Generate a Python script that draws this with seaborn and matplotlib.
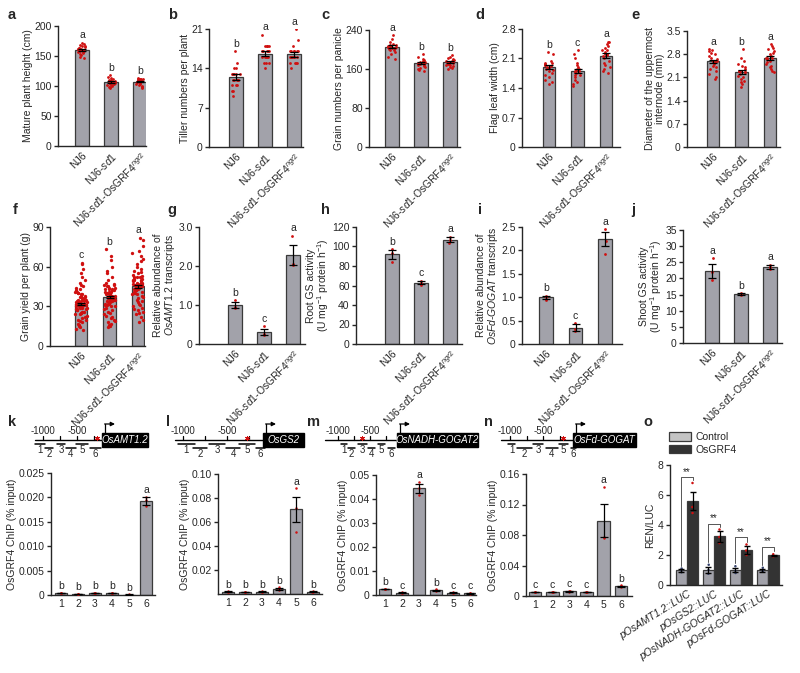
import numpy as np
import pandas as pd
import matplotlib
matplotlib.use('Agg')
import matplotlib.pyplot as plt
import seaborn as sns
from matplotlib.patches import Patch, Rectangle

# ---------------- data ----------------
GROUPS = ['NJ6', 'NJ6-sd1', 'NJ6-sd1-OsGRF4ngr2']
GROUP_LABELS = ['NJ6', r'NJ6-$\mathit{sd1}$', r'NJ6-$\mathit{sd1}$-OsGRF4$^{\mathit{ngr2}}$']

height_means = [160, 107, 107]
height_sems = [1.6, 1.3, 1.1]
height_pts = [[172, 170, 168, 167, 166, 165, 164, 163, 162, 162, 161, 160, 160, 159, 158, 157, 156, 155, 153, 151, 149, 146],
              [118, 115, 113, 112, 110, 109, 108, 108, 107, 106, 105, 104, 103, 102, 101, 100, 99, 98, 97, 110],
              [113, 112, 112, 111, 110, 110, 109, 108, 107, 106, 105, 104, 103, 102, 100, 99, 98, 97, 111, 112]]
height_letters = ['a', 'b', 'b']

tiller_means = [12.5, 16.6, 16.5]
tiller_sems = [0.5, 0.4, 0.4]
tiller_pts = [[17, 15, 14, 13, 13, 13, 13, 12, 12, 12, 12, 11, 11, 11, 10, 10, 9, 12, 13, 14],
              [20, 18, 18, 18, 18, 17, 17, 17, 17, 16, 16, 16, 16, 15, 15, 15, 14, 17, 16, 18],
              [21, 19, 17, 17, 17, 17, 17, 16, 16, 16, 16, 16, 15, 15, 15, 14, 18, 16, 17, 15]]
tiller_letters = ['b', 'a', 'a']

grain_means = [206, 172, 174]
grain_sems = [2.5, 2.0, 1.8]
grain_pts = [[230, 222, 215, 212, 210, 208, 207, 206, 205, 205, 204, 203, 202, 200, 198, 195, 190, 185, 180, 210],
             [190, 185, 180, 178, 176, 175, 174, 173, 172, 171, 170, 169, 168, 167, 165, 163, 160, 158, 155, 175],
             [188, 185, 182, 180, 178, 176, 175, 174, 173, 172, 171, 170, 169, 168, 166, 164, 162, 160, 178, 176]]
grain_letters = ['a', 'b', 'b']

leaf_means = [1.9, 1.8, 2.17]
leaf_sems = [0.05, 0.05, 0.06]
leaf_pts = [[2.25, 2.2, 2.05, 2.0, 1.98, 1.95, 1.92, 1.9, 1.88, 1.85, 1.82, 1.8, 1.75, 1.7, 1.65, 1.6, 1.55, 1.5, 2.0, 1.95],
            [2.3, 2.2, 2.1, 2.0, 1.95, 1.9, 1.85, 1.82, 1.8, 1.78, 1.75, 1.72, 1.7, 1.65, 1.6, 1.55, 1.5, 1.45, 1.85, 1.8],
            [2.5, 2.48, 2.45, 2.4, 2.35, 2.3, 2.25, 2.2, 2.18, 2.15, 2.1, 2.05, 2.0, 1.95, 1.9, 1.85, 1.8, 1.75, 2.2, 2.3]]
leaf_letters = ['b', 'c', 'a']

diam_means = [2.58, 2.27, 2.68]
diam_sems = [0.06, 0.06, 0.06]
diam_pts = [[2.95, 2.92, 2.9, 2.85, 2.8, 2.75, 2.7, 2.65, 2.6, 2.58, 2.55, 2.5, 2.45, 2.4, 2.35, 2.3, 2.2, 2.1, 2.05, 2.6],
            [2.95, 2.7, 2.6, 2.5, 2.45, 2.4, 2.35, 2.3, 2.28, 2.25, 2.2, 2.15, 2.1, 2.05, 2.0, 1.95, 1.9, 1.8, 2.3, 2.25],
            [3.1, 3.05, 3.0, 2.95, 2.9, 2.85, 2.8, 2.75, 2.7, 2.68, 2.65, 2.6, 2.55, 2.5, 2.45, 2.4, 2.35, 2.3, 2.25, 2.7]]
diam_letters = ['a', 'b', 'a']

yield_means = [32, 37, 45]
yield_sems = [0.8, 0.8, 0.9]
yield_pts = [[63, 62, 58, 55, 52, 50, 48, 46, 45, 44, 43, 42, 41, 41, 40, 40, 39, 39, 38, 38, 37, 37, 36, 36, 35, 35, 35, 34, 34, 34,
              33, 33, 33, 32, 32, 32, 32, 31, 31, 31, 30, 30, 30, 29, 29, 29, 28, 28, 28, 27, 27, 26, 26, 25, 25, 24, 24, 23, 22, 21,
              20, 20, 19, 18, 17, 16, 15, 14, 13, 12],
             [73, 68, 65, 60, 57, 55, 52, 50, 48, 47, 46, 46, 45, 45, 44, 44, 43, 43, 42, 42, 41, 41, 40, 40, 40, 39, 39, 39, 38, 38,
              38, 37, 37, 37, 36, 36, 36, 35, 35, 35, 34, 34, 34, 33, 33, 32, 32, 31, 31, 30, 30, 29, 28, 27, 26, 25, 24, 23, 22, 21,
              20, 19, 18, 17, 16, 15, 14, 38, 41, 43],
             [82, 80, 76, 72, 70, 68, 66, 64, 62, 60, 58, 57, 56, 55, 54, 53, 52, 52, 51, 51, 50, 50, 49, 49, 48, 48, 47, 47, 46, 46,
              46, 45, 45, 45, 44, 44, 44, 43, 43, 43, 42, 42, 41, 41, 40, 40, 39, 39, 38, 37, 36, 35, 34, 33, 32, 31, 30, 29, 28, 27,
              26, 25, 24, 22, 20, 18, 47, 48, 50, 52]]
yield_letters = ['c', 'b', 'a']

amt_means = [1.0, 0.3, 2.28]
amt_sems = [0.07, 0.08, 0.25]
amt_pts = [[1.13, 0.95, 0.92], [0.45, 0.25, 0.22], [2.78, 2.05, 2.02]]
amt_letters = ['b', 'c', 'a']

rootgs_means = [92, 63, 107]
rootgs_sems = [4.5, 1.8, 2.5]
rootgs_pts = [[97, 93, 84], [65, 63, 61], [110, 107, 104]]
rootgs_letters = ['b', 'c', 'a']

fd_means = [1.0, 0.35, 2.24]
fd_sems = [0.03, 0.07, 0.15]
fd_pts = [[1.03, 1.0, 0.95], [0.45, 0.32, 0.28], [2.45, 2.2, 1.92]]
fd_letters = ['b', 'c', 'a']

shootgs_means = [22.3, 15.2, 23.5]
shootgs_sems = [2.1, 0.3, 0.6]
shootgs_pts = [[26.3, 22.0, 19.5], [15.5, 15.2, 15.0], [24.3, 23.5, 22.8]]
shootgs_letters = ['a', 'b', 'a']

FRAGS = ['1', '2', '3', '4', '5', '6']

k_means = [0.0004, 0.0002, 0.0004, 0.0004, 0.0001, 0.0192]
k_sems = [0.00005, 0.00003, 0.00005, 0.00005, 0.00002, 0.0008]
k_pts = [[0.00045, 0.0004, 0.00035], [0.00025, 0.0002, 0.00015], [0.00045, 0.0004, 0.00035],
         [0.0005, 0.0004, 0.00035], [0.00012, 0.0001, 0.00008], [0.0201, 0.0195, 0.0182]]
k_letters = ['b', 'b', 'b', 'b', 'b', 'a']

l_means = [0.002, 0.0015, 0.002, 0.0045, 0.0705, 0.002]
l_sems = [0.0002, 0.0002, 0.0002, 0.0008, 0.0105, 0.0002]
l_pts = [[0.0022, 0.002, 0.0018], [0.0017, 0.0015, 0.0013], [0.0022, 0.002, 0.0018],
         [0.0055, 0.0045, 0.0035], [0.088, 0.072, 0.052], [0.0022, 0.002, 0.0018]]
l_letters = ['b', 'b', 'b', 'b', 'a', 'b']

m_means = [0.0025, 0.001, 0.0445, 0.002, 0.001, 0.0007]
m_sems = [0.0002, 0.0001, 0.0018, 0.0002, 0.0001, 0.0001]
m_pts = [[0.0027, 0.0025, 0.0023], [0.0011, 0.001, 0.0009], [0.047, 0.0445, 0.0415],
         [0.0023, 0.002, 0.0017], [0.0011, 0.001, 0.0009], [0.0008, 0.0007, 0.0006]]
m_letters = ['b', 'c', 'a', 'b', 'c', 'c']

n_means = [0.005, 0.005, 0.006, 0.005, 0.099, 0.013]
n_sems = [0.0003, 0.0003, 0.0003, 0.0003, 0.022, 0.0006]
n_pts = [[0.0053, 0.005, 0.0047], [0.0053, 0.005, 0.0047], [0.0063, 0.006, 0.0057],
         [0.0053, 0.005, 0.0047], [0.143, 0.078, 0.076], [0.0138, 0.013, 0.0122]]
n_letters = ['c', 'c', 'c', 'c', 'a', 'b']

CONSTRUCTS = ['pOsAMT1.2::LUC', 'pOsGS2::LUC', 'pOsNADH-GOGAT2::LUC', 'pOsFd-GOGAT::LUC']
TREATMENTS = ['Control', 'OsGRF4']
ctrl_means = [1.0, 1.0, 1.0, 1.0]
ctrl_sems = [0.1, 0.18, 0.15, 0.1]
ctrl_pts = [[1.1, 1.0, 0.85], [1.35, 1.0, 0.75], [1.25, 0.95, 0.8], [1.15, 1.0, 0.9]]
grf_means = [5.6, 3.25, 2.35, 1.97]
grf_sems = [0.62, 0.35, 0.28, 0.06]
grf_pts = [[6.8, 5.2, 4.8], [3.7, 3.2, 2.8], [2.7, 2.3, 2.0], [2.05, 1.95, 1.9]]
bracket_tops = [7.2, 4.1, 3.2, 2.55]

# promoter schematics (bp positions)
k_frag_bp = [(-1118, -971), (-971, -853), (-794, -676), (-662, -515), (-515, -338), (-309, -147)]
l_frag_bp = [(-1057, -864), (-886, -727), (-705, -523), (-511, -352), (-364, -182), (-170, -68)]
m_frag_bp = [(-953, -859), (-844, -734), (-688, -547), (-531, -422), (-375, -266), (-219, -109)]
n_frag_bp = [(-1030, -924), (-894, -667), (-652, -500), (-455, -273), (-258, -121), (-76, 0)]
star_bp = [-206, -273, -625, -197]
gene_names = ['OsAMT1.2', 'OsGS2', 'OsNADH-GOGAT2', 'OsFd-GOGAT']

# ---------------- style ----------------
sns.set_theme(style='ticks')
plt.rcParams['font.family'] = ['Liberation Sans', 'DejaVu Sans']
plt.rcParams['mathtext.fontset'] = 'custom'
plt.rcParams['mathtext.rm'] = 'Liberation Sans'
plt.rcParams['mathtext.it'] = 'Liberation Sans:italic'
plt.rcParams['mathtext.bf'] = 'Liberation Sans:bold'
plt.rcParams['axes.linewidth'] = 1.0
plt.rcParams['xtick.major.width'] = 1.0
plt.rcParams['ytick.major.width'] = 1.0
plt.rcParams['ytick.major.size'] = 3
plt.rcParams['ytick.major.pad'] = 1.5

BAR = '#a2a2aa'
EDGE = '#3a3a3a'
RED = '#d01010'
FS = 7.5
W, H = 800, 673

fig = plt.figure(figsize=(8, 6.73), dpi=100)
fig.patch.set_facecolor('white')


def add_ax(L, T, R, B):
    return fig.add_axes([L / W, 1 - B / H, (R - L) / W, (B - T) / H])


def bar_panel(box, c0, s, cats, means, sems, pts, letters, ymax, yticks, yticklabels, ylabel,
              xlabels, width=0.45, rot=45, jitter=0.15, psize=2.0, min_off=0.02):
    L, T, R, B = box
    ax = add_ax(L, T, R, B)
    df = pd.DataFrame({'cat': cats, 'mean': means})
    sns.barplot(data=df, x='cat', y='mean', order=cats, color=BAR, saturation=1,
                edgecolor=EDGE, linewidth=0.9, width=width, ax=ax, zorder=1)
    rows = [(c, v) for c, vals in zip(cats, pts) for v in vals]
    pdf = pd.DataFrame(rows, columns=['cat', 'val'])
    sns.stripplot(data=pdf, x='cat', y='val', order=cats, color=RED, size=psize,
                  jitter=jitter, linewidth=0, ax=ax, zorder=3)
    ax.errorbar(np.arange(len(cats)), means, yerr=sems, fmt='none', ecolor='black',
                elinewidth=0.9, capsize=2.8, capthick=0.9, zorder=4)
    for i, lt in enumerate(letters):
        top = max(means[i] + sems[i], max(pts[i]))
        ax.text(i, top + min_off * ymax, lt, ha='center', va='bottom', fontsize=FS)
    ax.set_ylim(0, ymax)
    ax.set_xlim((L - c0) / s, (R - c0) / s)
    ax.set_yticks(yticks)
    ax.set_yticklabels(yticklabels, fontsize=FS)
    ax.set_xticks(np.arange(len(cats)))
    if rot:
        ax.set_xticklabels(xlabels, rotation=rot, ha='right', rotation_mode='anchor', fontsize=FS)
    else:
        ax.set_xticklabels(xlabels, fontsize=FS)
    ax.tick_params(axis='x', length=0, pad=3)
    ax.set_xlabel('')
    ax.set_ylabel(ylabel, fontsize=FS, labelpad=1, linespacing=0.95)
    sns.despine(ax=ax)
    ax.patch.set_alpha(0)
    return ax


def fmt(vals, dec):
    return ['0' if v == 0 else f'{v:.{dec}f}' for v in vals]


np.random.seed(3)

# ---------- top row ----------
bar_panel((58, 26, 146, 146), 82, 29, GROUPS, height_means, height_sems, height_pts, height_letters,
          200, [0, 50, 100, 150, 200], ['0', '50', '100', '150', '200'], 'Mature plant height (cm)', GROUP_LABELS)
bar_panel((209, 29, 303, 147), 236, 29, GROUPS, tiller_means, tiller_sems, tiller_pts, tiller_letters,
          21, [0, 7, 14, 21], ['0', '7', '14', '21'], 'Tiller numbers per plant', GROUP_LABELS)
bar_panel((369, 30, 460, 147), 392, 29, GROUPS, grain_means, grain_sems, grain_pts, grain_letters,
          240, [0, 80, 160, 240], ['0', '80', '160', '240'], 'Grain numbers per panicle', GROUP_LABELS)
bar_panel((522, 29, 620, 147), 549, 28.5, GROUPS, leaf_means, leaf_sems, leaf_pts, leaf_letters,
          2.8, [0, 0.7, 1.4, 2.1, 2.8], fmt([0, 0.7, 1.4, 2.1, 2.8], 1), 'Flag leaf width (cm)', GROUP_LABELS)
bar_panel((687, 31, 780, 147), 713, 28.5, GROUPS, diam_means, diam_sems, diam_pts, diam_letters,
          3.5, [0, 0.7, 1.4, 2.1, 2.8, 3.5], fmt([0, 0.7, 1.4, 2.1, 2.8, 3.5], 1),
          'Diameter of the uppermost\ninternode (mm)', GROUP_LABELS)

# ---------- middle row ----------
bar_panel((50, 227, 145, 346), 81, 28.5, GROUPS, yield_means, yield_sems, yield_pts, yield_letters,
          90, [0, 30, 60, 90], ['0', '30', '60', '90'], 'Grain yield per plant (g)', GROUP_LABELS,
          jitter=0.2, psize=2.4)
bar_panel((199, 227, 305, 344), 235, 29, GROUPS, amt_means, amt_sems, amt_pts, amt_letters,
          3.0, [0, 1, 2, 3], ['0', '1.0', '2.0', '3.0'],
          'Relative abundance of\n$\\mathit{OsAMT1.2}$ transcripts', GROUP_LABELS, jitter=0.02)
bar_panel((356, 227, 462, 344), 392, 29, GROUPS, rootgs_means, rootgs_sems, rootgs_pts, rootgs_letters,
          120, [0, 20, 40, 60, 80, 100, 120], ['0', '20', '40', '60', '80', '100', '120'],
          'Root GS activity\n(U mg$^{-1}$ protein h$^{-1}$)', GROUP_LABELS, jitter=0.02)
bar_panel((522, 227, 622, 344), 546, 29.5, GROUPS, fd_means, fd_sems, fd_pts, fd_letters,
          2.5, [0, 0.5, 1.0, 1.5, 2.0, 2.5], fmt([0, 0.5, 1.0, 1.5, 2.0, 2.5], 1),
          'Relative abundance of\n$\\mathit{OsFd}$-$\\mathit{GOGAT}$ transcripts', GROUP_LABELS, jitter=0.02)
bar_panel((683, 230, 782, 343), 712, 29, GROUPS, shootgs_means, shootgs_sems, shootgs_pts, shootgs_letters,
          35, [0, 5, 10, 15, 20, 25, 30, 35], ['0', '5', '10', '15', '20', '25', '30', '35'],
          'Shoot GS activity\n(U mg$^{-1}$ protein h$^{-1}$)', GROUP_LABELS, jitter=0.02)

# ---------- bottom row ChIP ----------
chip_label = 'OsGRF4 ChIP (% input)'
bar_panel((51, 473, 155, 595), 61, 17, FRAGS, k_means, k_sems, k_pts, k_letters,
          0.025, [0, 0.005, 0.01, 0.015, 0.02, 0.025], fmt([0, 0.005, 0.01, 0.015, 0.02, 0.025], 3),
          chip_label, FRAGS, width=0.75, rot=0, jitter=0.03, psize=1.8, min_off=0.015)
bar_panel((218, 474, 322, 594), 228, 17, FRAGS, l_means, l_sems, l_pts, l_letters,
          0.10, [0.02, 0.04, 0.06, 0.08, 0.10], fmt([0.02, 0.04, 0.06, 0.08, 0.10], 2),
          chip_label, FRAGS, width=0.75, rot=0, jitter=0.03, psize=1.8, min_off=0.015)
bar_panel((376, 475, 476, 595), 385, 17, FRAGS, m_means, m_sems, m_pts, m_letters,
          0.05, [0, 0.01, 0.02, 0.03, 0.04, 0.05], fmt([0, 0.01, 0.02, 0.03, 0.04, 0.05], 2),
          chip_label, FRAGS, width=0.75, rot=0, jitter=0.03, psize=1.8, min_off=0.015)
bar_panel((526, 474, 632, 596), 535, 17.2, FRAGS, n_means, n_sems, n_pts, n_letters,
          0.16, [0, 0.04, 0.08, 0.12, 0.16], fmt([0, 0.04, 0.08, 0.12, 0.16], 2),
          chip_label, FRAGS, width=0.75, rot=0, jitter=0.03, psize=1.8, min_off=0.015)

# ---------- panel o ----------
L, T, R, B = 670, 465, 782, 585
c0, s = 687, 27
axo = add_ax(L, T, R, B)
odf = pd.DataFrame({'construct': CONSTRUCTS * 2,
                    'treatment': [TREATMENTS[0]] * 4 + [TREATMENTS[1]] * 4,
                    'mean': ctrl_means + grf_means})
sns.barplot(data=odf, x='construct', y='mean', hue='treatment', order=CONSTRUCTS, hue_order=TREATMENTS,
            palette=[BAR, '#333333'], saturation=1, edgecolor=EDGE, linewidth=0.9, width=0.84,
            ax=axo, legend=False, zorder=1)
off = 0.21
xs_c = np.arange(4) - off
xs_g = np.arange(4) + off
axo.errorbar(xs_c, ctrl_means, yerr=ctrl_sems, fmt='none', ecolor='black', elinewidth=0.9, capsize=2.5, zorder=4)
axo.errorbar(xs_g, grf_means, yerr=grf_sems, fmt='none', ecolor='black', elinewidth=0.9, capsize=2.5, zorder=4)
prow = [(c, t, v) for c, vals in zip(CONSTRUCTS, ctrl_pts) for t, v in zip([TREATMENTS[0]] * 3, vals)]
prow += [(c, t, v) for c, vals in zip(CONSTRUCTS, grf_pts) for t, v in zip([TREATMENTS[1]] * 3, vals)]
opdf = pd.DataFrame(prow, columns=['construct', 'treatment', 'val'])
sns.stripplot(data=opdf, x='construct', y='val', hue='treatment', order=CONSTRUCTS, hue_order=TREATMENTS,
              palette=['#34406a', RED], dodge=True, jitter=0.02, size=1.8, linewidth=0, ax=axo,
              legend=False, zorder=3)
for i in range(4):
    lb = max(ctrl_means[i] + ctrl_sems[i], max(ctrl_pts[i])) + 0.2
    rb = max(grf_means[i] + grf_sems[i], max(grf_pts[i])) + 0.2
    top = bracket_tops[i]
    axo.plot([xs_c[i], xs_c[i], xs_g[i], xs_g[i]], [lb, top, top, rb], color='#555555', lw=0.7, zorder=5)
    axo.text(i, top + 0.02, '**', ha='center', va='bottom', fontsize=7)
axo.set_ylim(0, 8)
axo.set_xlim((L - c0) / s, (R - c0) / s)
axo.set_yticks([0, 2, 4, 6, 8])
axo.set_yticklabels(['0', '2', '4', '6', '8'], fontsize=FS)
axo.set_xticks(np.arange(4))
axo.set_xticklabels(CONSTRUCTS, rotation=32, ha='right', rotation_mode='anchor', fontsize=FS, style='italic')
axo.tick_params(axis='x', length=0, pad=3)
axo.set_xlabel('')
axo.set_ylabel('REN/LUC', fontsize=FS, labelpad=2)
sns.despine(ax=axo)
axo.patch.set_alpha(0)
handles = [Patch(facecolor='#c4c4c4', edgecolor=EDGE, lw=0.9, label='Control'),
           Patch(facecolor='#333333', edgecolor=EDGE, lw=0.9, label='OsGRF4')]
fig.legend(handles=handles, loc='upper left', bbox_to_anchor=(669 / W, 1 - 432 / H), frameon=False,
           fontsize=FS, handlelength=2.1, handleheight=0.9, handletextpad=0.4, labelspacing=0.25,
           borderpad=0, borderaxespad=0)

# ---------- promoter schematics ----------
ov = fig.add_axes([0, 0, 1, 1], zorder=-1)
ov.set_xlim(0, W)
ov.set_ylim(H, 0)
ov.axis('off')
ov.patch.set_alpha(0)

layouts = [dict(origin=111, scale=0.068, line_start=-1118, box=(102, 148), y=440),
           dict(origin=271, scale=0.088, line_start=-1091, box=(263, 304), y=440),
           dict(origin=402, scale=0.064, line_start=-1200, box=(397, 478), y=440),
           dict(origin=576, scale=0.066, line_start=-1136, box=(573, 636), y=440)]
frag_sets = [k_frag_bp, l_frag_bp, m_frag_bp, n_frag_bp]
for lay, frags, name, st in zip(layouts, frag_sets, gene_names, star_bp):
    o, sc, y = lay['origin'], lay['scale'], lay['y']
    bl, br = lay['box']

    def px(bp):
        return o + bp * sc
    ov.plot([px(lay['line_start']), bl], [y, y], color='black', lw=1.0)
    for t in [-1000, -750, -500, -250]:
        if px(t) < bl - 2:
            ov.plot([px(t), px(t)], [y - 4, y], color='black', lw=0.9)
    ov.text(px(-1000), y - 9, '-1000', ha='center', va='center', fontsize=7)
    ov.text(px(-500), y - 9, '-500', ha='center', va='center', fontsize=7)
    ov.add_patch(Rectangle((bl, y - 7), br - bl, 14, facecolor='black', edgecolor='black'))
    ov.text((bl + br) / 2, y, name, color='white', style='italic', ha='center', va='center', fontsize=7)
    ov.plot([bl + 3, bl + 3], [y - 7, y - 16], color='black', lw=0.9)
    ov.annotate('', xy=(bl + 13, y - 16), xytext=(bl + 2.6, y - 16),
                arrowprops=dict(arrowstyle='-|>', lw=0.9, color='black', mutation_scale=6,
                                shrinkA=0, shrinkB=0))
    for j, (a, b) in enumerate(frags):
        yy = y + 4 if j % 2 == 0 else y + 8
        ov.plot([px(a), px(b)], [yy, yy], color='black', lw=1.1)
        ov.text((px(a) + px(b)) / 2, yy + 6, str(j + 1), ha='center', va='center', fontsize=7)
    ov.plot([px(st)], [y - 2.5], marker=(6, 2, 0), color=RED, ms=3.5, mew=0.7, linestyle='none')

# ---------- panel letters ----------
letters_pos = [('a', 12, 15), ('b', 173, 15), ('c', 325, 15), ('d', 480, 15), ('e', 635, 15),
               ('f', 15, 210), ('g', 172, 210), ('h', 325, 210), ('i', 480, 210), ('j', 633, 210),
               ('k', 12, 422), ('l', 168, 422), ('m', 313, 422), ('n', 488, 422), ('o', 648, 422)]
for t, x, y in letters_pos:
    fig.text(x / W, 1 - y / H, t, fontsize=10.5, fontweight='bold', ha='center', va='center')

fig.savefig('out.png', dpi=100, facecolor='white')
